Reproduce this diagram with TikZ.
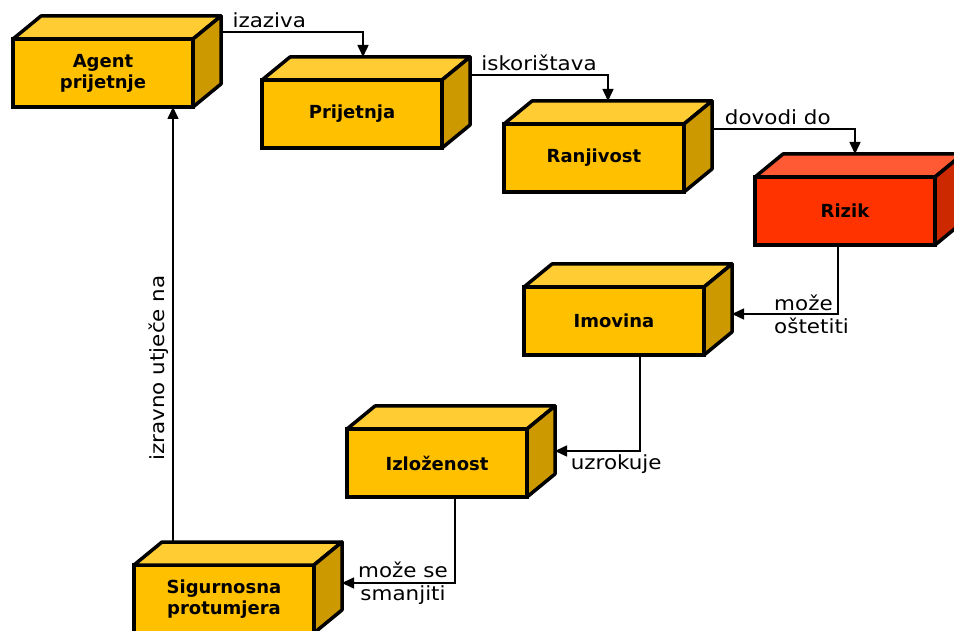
\documentclass[tikz,border=0pt]{standalone}
\usepackage{fontspec}
\setmainfont{DejaVu Sans}
\newfontfamily\lblfont{DejaVu Sans}[FakeStretch=1.1]
\usetikzlibrary{arrows.meta,calc}
\definecolor{boxfront}{HTML}{FFC000}
\definecolor{boxtop}{HTML}{FFCC33}
\definecolor{boxside}{HTML}{CC9900}
\definecolor{riskfront}{HTML}{FF3300}
\definecolor{risktop}{HTML}{FF5A33}
\definecolor{riskside}{HTML}{CC2900}
\begin{document}
\begin{tikzpicture}[x=1pt, y=1pt,
    box/.style={draw, line width=3.5pt, fill=boxfront, outer sep=0pt, minimum width=180pt, minimum height=68pt, align=center, font=\fontsize{18}{21}\selectfont\bfseries},
    face/.style={draw, line width=3.5pt, line join=round},
    lbl/.style={font=\lblfont\fontsize{19.5}{23}\selectfont},
    link/.style={->, line width=1.5pt},
    >={Triangle[length=12pt, width=11pt]}]
    \clip (0,0) rectangle (954,630);
    \node[box] (agent) at (103,557) {Agent\\prijetnje};
    \node[box] (threat) at (352,516) {Prijetnja};
    \node[box] (vuln) at (594,472) {Ranjivost};
    \node[box, fill=riskfront] (risk) at (845,419) {Rizik};
    \node[box] (asset) at (614,309) {Imovina};
    \node[box] (expo) at (437,167) {Izloženost};
    \node[box] (safeguard) at (224,31) {Sigurnosna\\protumjera};
    % top and side faces of the boxes
    \foreach \n/\t/\s in {agent/boxtop/boxside, threat/boxtop/boxside, vuln/boxtop/boxside, risk/risktop/riskside, asset/boxtop/boxside, expo/boxtop/boxside, safeguard/boxtop/boxside}{
        \draw[face, fill=\t] (\n.north west) -- ($(\n.north west)+(28,23)$) -- ($(\n.north east)+(28,23)$) -- (\n.north east) -- cycle;
        \draw[face, fill=\s] (\n.north east) -- ($(\n.north east)+(28,23)$) -- ($(\n.south east)+(28,23)$) -- (\n.south east) -- cycle;
    }
    \draw[link] ($(agent.north east)+(28,7)$) -| node[lbl, pos=0.17, above] {izaziva} ($(threat.north)+(11,23)$);
    \draw[link] ($(threat.north east)+(28,5)$) -| node[lbl, pos=0.25, above] {iskorištava} ($(vuln.north)+(14,23)$);
    \draw[link] ($(vuln.north east)+(28,-5)$) -| node[lbl, pos=0.23, above] {dovodi do} ($(risk.north)+(10,23)$);
    \draw[link] ($(risk.south)+(-7,0)$) |- node[lbl, pos=0.82, anchor=west, align=left] {može\\oštetiti} ($(asset.east)+(28,7)$);
    \draw[link] ($(asset.south)+(26,0)$) |- node[lbl, pos=0.64, below] {uzrokuje} ($(expo.east)+(28,12)$);
    \draw[link] ($(expo.south)+(18,0)$) |- node[lbl, pos=0.73, align=center] {može se\\smanjiti} ($(safeguard.east)+(28,16)$);
    \coordinate (up) at ($(safeguard.north)+(-51,23)$);
    \draw[link] (up) -- node[lbl, pos=0.4, rotate=90, anchor=south] {izravno utječe na} (up |- agent.south);
\end{tikzpicture}
\end{document}
